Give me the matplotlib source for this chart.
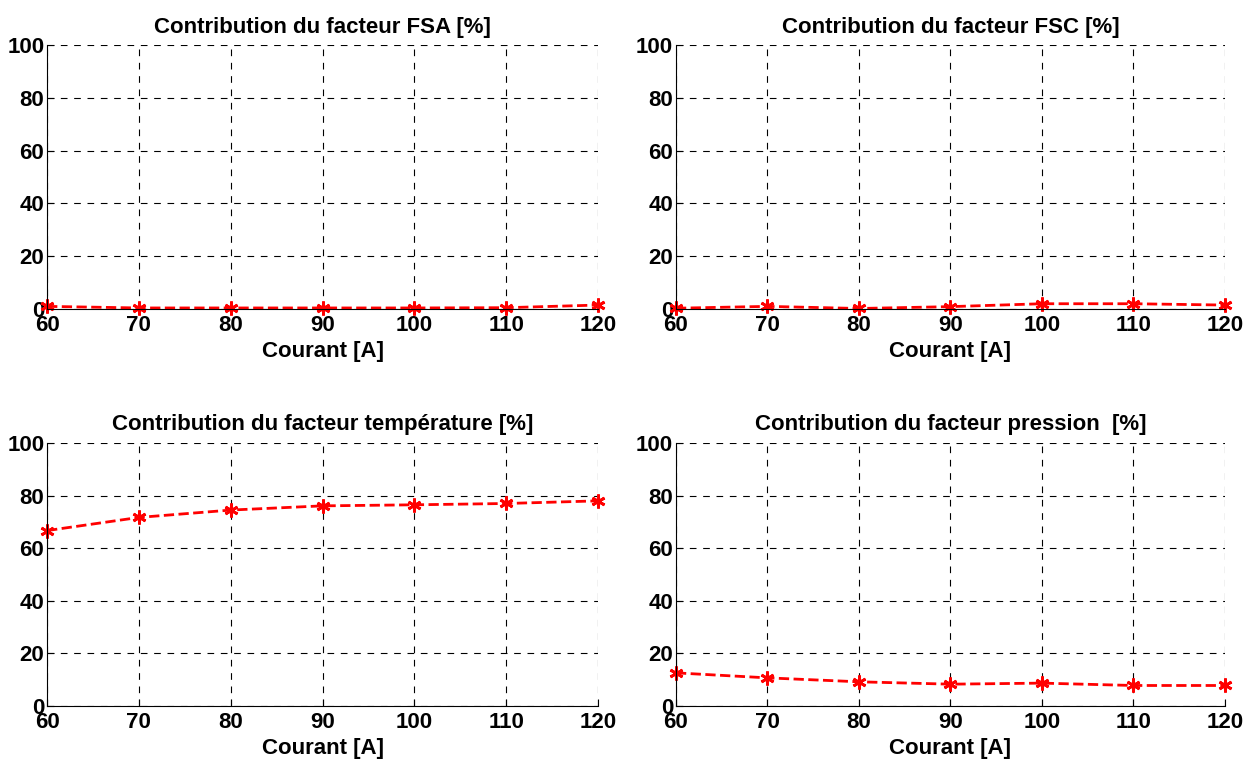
import matplotlib
matplotlib.use('Agg')
import matplotlib.pyplot as plt

plt.rcParams['font.family'] = ['Liberation Sans', 'DejaVu Sans']
plt.rcParams['font.weight'] = 'bold'

# courant (A) and contribution of each factor (%)
courant = [60, 70, 80, 90, 100, 110, 120]
fsa = [1.0, 0.4, 0.4, 0.4, 0.4, 0.5, 1.5]
fsc = [0.3, 1.0, 0.2, 0.9, 2.0, 2.0, 1.5]
temperature = [66.7, 71.7, 74.5, 76.1, 76.5, 77.0, 78.0]
pression = [12.6, 10.7, 9.2, 8.3, 8.7, 7.8, 7.8]

titles = ['Contribution du facteur FSA [%]',
          'Contribution du facteur FSC [%]',
          'Contribution du facteur température [%]',
          'Contribution du facteur pression  [%]']
series = [fsa, fsc, temperature, pression]

fig = plt.figure(figsize=(12.55, 7.63), dpi=100)
boxes = [[0.0375, 0.595, 0.439, 0.346],
         [0.5386, 0.595, 0.4374, 0.346],
         [0.0375, 0.0747, 0.439, 0.3447],
         [0.5386, 0.0747, 0.4374, 0.3447]]

for box, title, vals in zip(boxes, titles, series):
    ax = fig.add_axes(box)
    ax.plot(courant, vals, color='red', linestyle='--', linewidth=2,
            marker=(6, 2, 0), markersize=10, markeredgewidth=2, clip_on=False)
    ax.set_xlim(60, 120)
    ax.set_ylim(0, 100)
    ax.set_xticks(courant)
    ax.set_yticks([0, 20, 40, 60, 80, 100])
    ax.grid(True, color='black', linestyle=(0, (6, 6)), linewidth=0.8)
    for s in ['top', 'right']:
        ax.spines[s].set_visible(False)
    ax.tick_params(direction='in', labelsize=16, length=5)
    ax.tick_params(axis='x', pad=4)
    ax.tick_params(axis='y', pad=2)
    for lab in ax.get_xticklabels() + ax.get_yticklabels():
        lab.set_fontweight('bold')
    ax.set_title(title, fontsize=16, fontweight='bold', pad=9)
    ax.set_xlabel('Courant [A]', fontsize=16, fontweight='bold', labelpad=4)

fig.savefig('out.png', dpi=100)
